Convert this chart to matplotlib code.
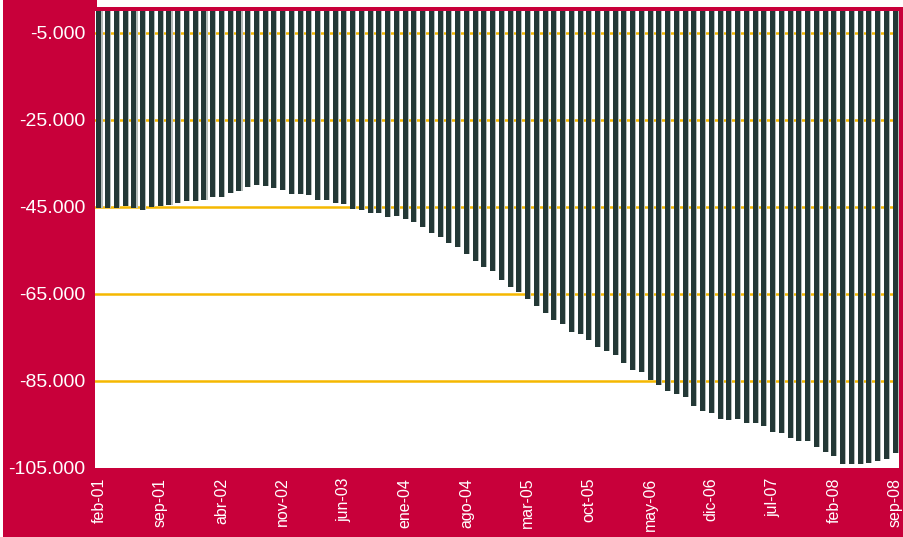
import matplotlib.pyplot as plt
import numpy as np
from matplotlib.patches import Rectangle

# Monthly balance, feb-01 .. sep-08
months = ["ene", "feb", "mar", "abr", "may", "jun", "jul", "ago", "sep", "oct", "nov", "dic"]
periods = [f"{months[(1 + i) % 12]}-{(2001 + (1 + i) // 12) % 100:02d}" for i in range(92)]

balance = [
    -45300, -45300, -45200, -44800, -45300, -45700, -45100, -44900, -44500, -44100,
    -43600, -43600, -43500, -42800, -42800, -41900, -41300, -40400, -39900, -40200,
    -40600, -41100, -42100, -42100, -42300, -43400, -43400, -44150, -44400, -45400,
    -45750, -46450, -46450, -47350, -47150, -47850, -48500, -49550, -51050, -51850,
    -53350, -54250, -55850, -57500, -58850, -59850, -61700, -63400, -64600, -66200,
    -67700, -69450, -70950, -71900, -73650, -74250, -75650, -77200, -78100, -79000,
    -80800, -82450, -83000, -84750, -85900, -87250, -88000, -88750, -90750, -91850,
    -92450, -93800, -94050, -93750, -94600, -94600, -95350, -96800, -97000, -98050,
    -98700, -98700, -100150, -101400, -102250, -104100, -104100, -104000, -103900, -103300,
    -103000, -101600,
]

y_ticks = [-5000, -25000, -45000, -65000, -85000, -105000]
y_tick_labels = ["-5.000", "-25.000", "-45.000", "-65.000", "-85.000", "-105.000"]

crimson = "#C8003A"
bar_color = "#233836"
shadow_color = "#B4BCB9"
grid_color = "#F5B800"
font = "Liberation Sans"

W, H = 904, 537
fig = plt.figure(figsize=(W / 100, H / 100), dpi=100, facecolor=crimson)

# white margins around the red panel
fig.patches.append(Rectangle((0, 0), 3 / W, 1, transform=fig.transFigure,
                             facecolor="white", edgecolor="none", zorder=0))
fig.patches.append(Rectangle((97 / W, (H - 7) / H), 1, 7 / H, transform=fig.transFigure,
                             facecolor="white", edgecolor="none", zorder=0))

ax = fig.add_axes([95 / W, (H - 468) / H, (899 - 95) / W, (468 - 11) / H])
ax.set_facecolor("white")

x = np.arange(len(balance))
ax.bar(x + 0.12, balance, width=0.58, color=shadow_color, zorder=2)
ax.bar(x, balance, width=0.58, color=bar_color, zorder=3)

for t in y_ticks[:-1]:
    ax.axhline(t, color=grid_color, linewidth=1.8, zorder=1)

ax.set_ylim(-105000, 0)
ax.set_xlim(-0.45, len(balance) - 0.55)

ax.set_yticks(y_ticks)
ax.set_yticklabels(y_tick_labels, color="white", fontsize=14, family=font)
ax.set_xticks(x[::7])
ax.set_xticklabels(periods[::7], rotation=90, color="white", fontsize=11.5, family=font)
ax.tick_params(length=0)
ax.tick_params(axis="y", pad=7)
ax.tick_params(axis="x", pad=7)

for s in ax.spines.values():
    s.set_visible(False)

fig.savefig("out.png", dpi=100, facecolor=crimson)
